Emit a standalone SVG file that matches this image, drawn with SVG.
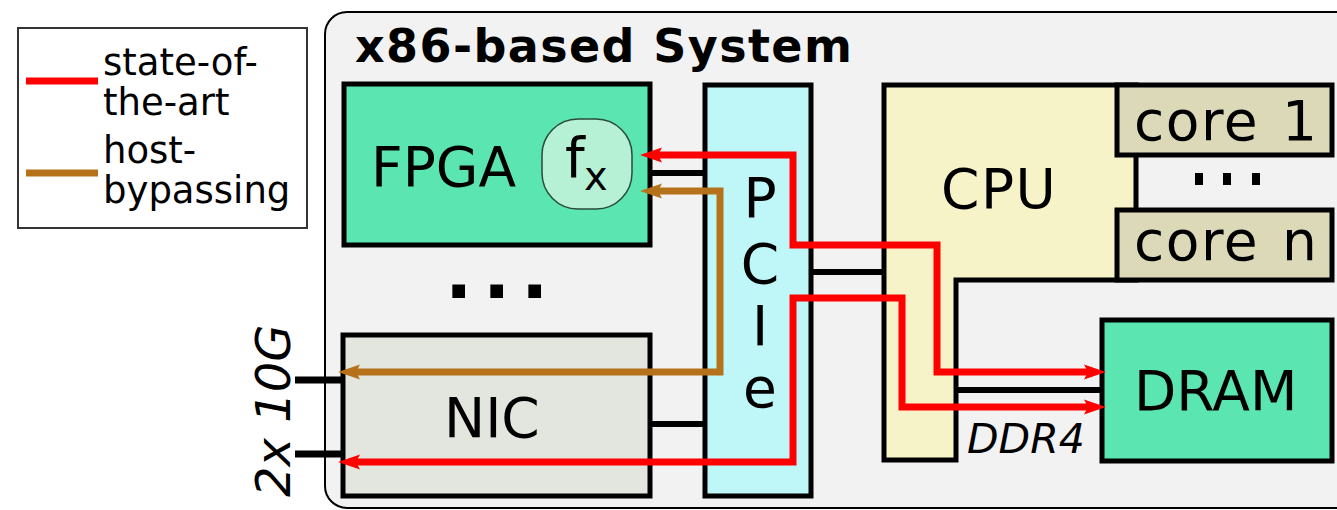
<svg xmlns="http://www.w3.org/2000/svg" width="1337" height="510" viewBox="0 0 1337 510">
<style>
  text { font-family: "DejaVu Sans", Verdana, sans-serif; fill: #000; }
  .big { font-size: 55px; }
  .core { font-size: 55px; letter-spacing: 1.5px; word-spacing: 4px; }
  .box { stroke: #000; stroke-width: 5; }
  .wire { fill: none; stroke: #000; stroke-width: 6; }
  .red { fill: none; stroke: #ff0000; stroke-width: 7; }
  .brown { fill: none; stroke: #b5721a; stroke-width: 7; }
</style>
<defs>
  <marker id="ar" markerUnits="userSpaceOnUse" markerWidth="24" markerHeight="18" refX="4" refY="9" orient="auto-start-reverse">
    <path d="M0,1.5 L22,9 L0,16.5 L4,9 z" fill="#ff0000"/>
  </marker>
  <marker id="ab" markerUnits="userSpaceOnUse" markerWidth="24" markerHeight="18" refX="4" refY="9" orient="auto-start-reverse">
    <path d="M0,1.5 L22,9 L0,16.5 L4,9 z" fill="#b5721a"/>
  </marker>
</defs>
<rect width="1337" height="510" fill="#fff"/>

<g id="legend">
  <rect x="18" y="28" width="289" height="200" fill="#fff" stroke="#333" stroke-width="2"/>
  <line x1="26" y1="81" x2="98" y2="81" stroke="#ff0000" stroke-width="7"/>
  <line x1="26" y1="173" x2="98" y2="173" stroke="#b5721a" stroke-width="7"/>
  <text x="103" y="75" font-size="37">state-of-</text>
  <text x="103" y="115" font-size="37">the-art</text>
  <text x="103" y="163" font-size="37">host-</text>
  <text x="103" y="203" font-size="37">bypassing</text>
</g>

<g id="system">
  <rect x="325" y="12" width="1040" height="496" rx="22" fill="#f2f2f2" stroke="#000" stroke-width="2"/>
  <text x="355" y="62" font-size="46" font-weight="bold" letter-spacing="1.4">x86-based System</text>
</g>

<g id="ports">
  <line x1="295" y1="380" x2="342" y2="380" stroke="#000" stroke-width="7"/>
  <line x1="295" y1="454" x2="342" y2="454" stroke="#000" stroke-width="7"/>
  <text transform="translate(290,497) rotate(-90)" font-size="48" font-style="italic">2x 10G</text>
</g>

<g id="connectors-black">
  <line class="wire" x1="650" y1="173" x2="705" y2="173"/>
  <line class="wire" x1="650" y1="424" x2="705" y2="424"/>
  <line class="wire" x1="811" y1="272" x2="884" y2="272"/>
  <line class="wire" x1="955" y1="390" x2="1102" y2="390"/>
</g>

<g id="fpga">
  <rect class="box" x="344" y="84" width="306" height="161" fill="#5be5b0"/>
  <text class="big" x="371" y="186">FPGA</text>
  <rect x="542" y="119" width="90" height="90" rx="36" fill="#b6f1d6" stroke="#2a4a3a" stroke-width="1.5"/>
  <text x="565" y="177" font-size="56">f</text>
  <text x="584" y="190" font-size="40">x</text>
</g>

<g id="dots">
  <text x="445" y="298" font-size="72" font-weight="bold" letter-spacing="10.6">...</text>
</g>

<g id="nic">
  <rect class="box" x="343" y="335" width="307" height="161" fill="#e3e6df"/>
  <text class="big" x="444" y="437">NIC</text>
</g>

<g id="pcie">
  <rect class="box" x="705" y="85" width="106" height="411" fill="#bff6f8"/>
  <text class="big" x="760" y="217" text-anchor="middle">P</text>
  <text class="big" x="760" y="283" text-anchor="middle">C</text>
  <text class="big" x="760" y="345" text-anchor="middle">I</text>
  <text class="big" x="760" y="407" text-anchor="middle">e</text>
</g>

<g id="cpu">
  <path class="box" d="M884,85 H1136 V280 H956 V460 H884 Z" fill="#f7f3c9"/>
  <text class="big" x="941" y="208" letter-spacing="1.5">CPU</text>
</g>

<g id="core1">
  <rect class="box" x="1117" y="85" width="215" height="70" fill="#dcd9b8"/>
  <text class="core" x="1134" y="140">core 1</text>
</g>

<g id="core-dots">
  <rect x="1195" y="173" width="8" height="12" fill="#000"/>
  <rect x="1223" y="173" width="8" height="12" fill="#000"/>
  <rect x="1252" y="173" width="8" height="12" fill="#000"/>
</g>

<g id="coren">
  <rect class="box" x="1117" y="210" width="215" height="70" fill="#dcd9b8"/>
  <text class="core" x="1134" y="260">core n</text>
</g>

<g id="dram">
  <rect class="box" x="1102" y="320" width="230" height="141" fill="#5be5b0"/>
  <text class="big" x="1134" y="410">DRAM</text>
</g>

<g id="ddr4">
  <text x="967" y="453" font-size="41" font-style="italic">DDR4</text>
</g>

<g id="connectors">
  <path class="red" d="M658,155 H793 V245 H937 V372 H1088" marker-start="url(#ar)" marker-end="url(#ar)"/>
  <path class="red" d="M356,462 H793 V298 H902 V407 H1088" marker-start="url(#ar)" marker-end="url(#ar)"/>
  <path class="brown" d="M658,191 H720 V372 H356" marker-start="url(#ab)" marker-end="url(#ab)"/>
</g>
</svg>
